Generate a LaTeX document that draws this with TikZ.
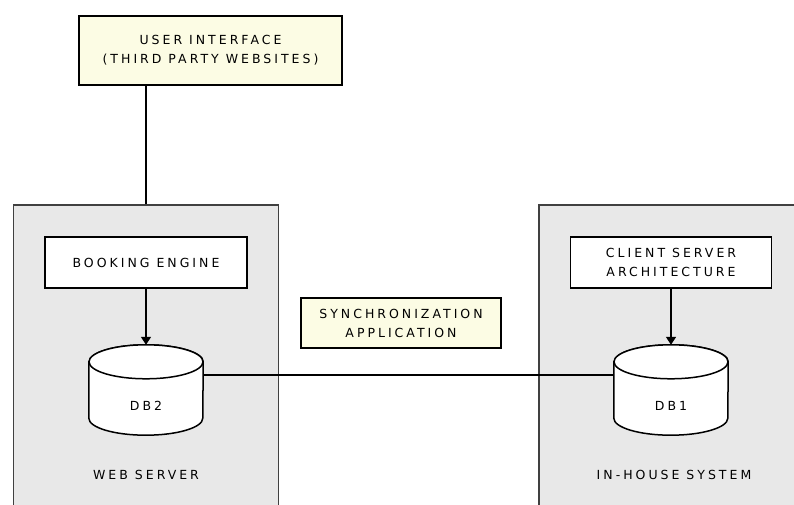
\documentclass[tikz,border=0pt]{standalone}
\usepackage{fontspec}
\setmainfont{DejaVu Sans}[LetterSpace=24]
\usepackage{tikz}
\usetikzlibrary{arrows.meta}

\definecolor{notefill}{HTML}{FCFCE4}
\definecolor{panelfill}{HTML}{E8E8E8}
\newcommand{\pixfont}{\fontsize{12.5}{19}\selectfont}

% draw a drum (database) round an empty node
\newcommand{\dbdrum}[1]{%
	\draw[drum] ([yshift=-17pt]#1.north west) -- ([yshift=17pt]#1.south west)
		arc[start angle=180, end angle=0, x radius=57, y radius=17]
		-- ([yshift=-17pt]#1.north east)
		arc[start angle=0, end angle=-180, x radius=57, y radius=17] -- cycle;
	\draw[drum] ([yshift=-17pt]#1.north) ellipse[x radius=57, y radius=17];
}

\tikzset{
	panel/.style={draw=black!75, fill=panelfill, line width=1.5pt},
	note/.style={draw=black, fill=notefill, line width=1.5pt, align=center, font=\pixfont},
	block/.style={draw=black, fill=white, line width=1.5pt, align=center, font=\pixfont},
	drum/.style={draw=black, fill=white, line width=1.5pt},
	label/.style={font=\pixfont},
	link/.style={draw=black, line width=1.5pt},
	arrow/.style={link, -{Triangle[width=10pt, length=8pt]}}
}

\begin{document}
\begin{tikzpicture}[x=1pt, y=-1pt]
	\useasboundingbox (0,0) rectangle (794,505);

	% Panels
	\node[panel, minimum width=265pt, minimum height=307pt] (web) at (146,358.5) {};
	\node[panel, minimum width=267pt, minimum height=307pt] (house) at (672.5,358.5) {};
	\node[label] (webtxt) at (146,475) {WEB SERVER};
	\node[label] (housetxt) at (674,475) {IN-HOUSE SYSTEM};

	% Top note
	\node[note, minimum width=263pt, minimum height=69pt] (ui) at (210.5,50.5)
		{USER INTERFACE\\(THIRD PARTY WEBSITES)};
	\draw[link] (web.north) -- (web.north |- ui.south);

	% Middle note
	\node[note, minimum width=200pt, minimum height=50pt] (sync) at (401,323)
		{SYNCHRONIZATION\\APPLICATION};

	% Blocks
	\node[block, minimum width=202pt, minimum height=51pt] (booking) at (146,262.5) {BOOKING ENGINE};
	\node[block, minimum width=201pt, minimum height=51pt] (client) at (671,262.5)
		{CLIENT SERVER\\ARCHITECTURE};

	% Databases
	\node[minimum width=114pt, minimum height=90pt, inner sep=0pt] (db2) at (146,390) {};
	\node[minimum width=114pt, minimum height=90pt, inner sep=0pt] (db1) at (671,390) {};
	\dbdrum{db2}
	\dbdrum{db1}
	\node[label] (db2txt) at ([yshift=-16pt]db2.center) {DB2};
	\node[label] (db1txt) at ([yshift=-16pt]db1.center) {DB1};

	% Connectors
	\draw[arrow] (booking.south) -- (booking.south |- db2.north);
	\draw[arrow] (client.south) -- (client.south |- db1.north);
	\draw[link] ([yshift=15pt]db2.east) -- ([yshift=15pt]db1.west);

\end{tikzpicture}
\end{document}
